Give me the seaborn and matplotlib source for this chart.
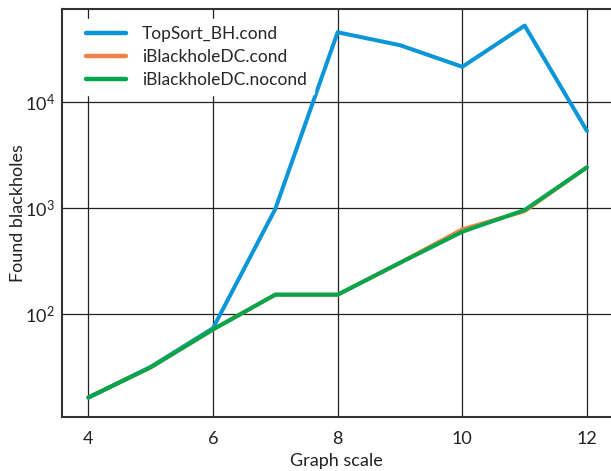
import matplotlib
matplotlib.use("Agg")
import matplotlib.pyplot as plt
import numpy as np
import pandas as pd
import seaborn as sns

# graph scale on x, found blackholes on y (log)
scales = [4, 5, 6, 7, 8, 9, 10, 11, 12]
topsort_cond = [16.4, 32, 74, 980, 45000, 34000, 21300, 52000, 5300]
ibh_cond = [16.5, 31.7, 72, 153, 153, 305, 630, 935, 2420]
ibh_nocond = [16.5, 31.7, 72, 153, 153, 305, 598, 957, 2415]

names = ["TopSort_BH.cond", "iBlackholeDC.cond", "iBlackholeDC.nocond"]
colors = ["#0b96d8", "#f0824a", "#04a64b"]

df = pd.DataFrame({
    "scale": scales * 3,
    "found": topsort_cond + ibh_cond + ibh_nocond,
    "series": [names[0]] * 9 + [names[1]] * 9 + [names[2]] * 9,
})

sns.set_style("white")
plt.rcParams["font.family"] = ["Lato", "DejaVu Sans"]

fig = plt.figure(figsize=(6.11, 4.71), dpi=100)
ax = fig.add_axes([62 / 611, (471 - 417.3) / 471, 1 - 62 / 611, (417.3 - 9.3) / 471])

sns.lineplot(data=df, x="scale", y="found", hue="series", hue_order=names,
             palette=colors, linewidth=2.9, ax=ax)

ax.set_yscale("log")
ax.set_xlim(3.578, 12.385)
ax.set_ylim(10 ** (2 - 103 / 106.3), 10 ** (2 + 305 / 106.3))
ax.set_xticks([4, 6, 8, 10, 12])
ax.set_yticks([100, 1000, 10000])
ax.yaxis.set_minor_locator(matplotlib.ticker.NullLocator())
ax.grid(True, color="#222222", linewidth=0.9)
ax.set_axisbelow(True)
ax.tick_params(length=0, labelsize=13, colors="#222222")
ax.tick_params(axis="x", pad=10)
ax.tick_params(axis="y", pad=5)

for side in ["left", "bottom", "top"]:
    ax.spines[side].set_color("#333333")
    ax.spines[side].set_linewidth(1.5)
ax.spines["right"].set_visible(False)

ax.set_xlabel("Graph scale", fontsize=13, color="#222222", labelpad=4)
ax.set_ylabel("Found blackholes", fontsize=13, color="#222222", labelpad=-1)

leg = ax.legend(loc="upper left", bbox_to_anchor=(0.014, 1.0), frameon=True,
                fontsize=12.5, handlelength=2.3, handletextpad=0.9,
                labelspacing=0.42, borderpad=0.4, borderaxespad=0.55)
leg.get_frame().set_facecolor("white")
leg.get_frame().set_edgecolor("white")
leg.get_frame().set_alpha(1)
for line in leg.get_lines():
    line.set_linewidth(3.2)

fig.savefig("out.png", dpi=100)
